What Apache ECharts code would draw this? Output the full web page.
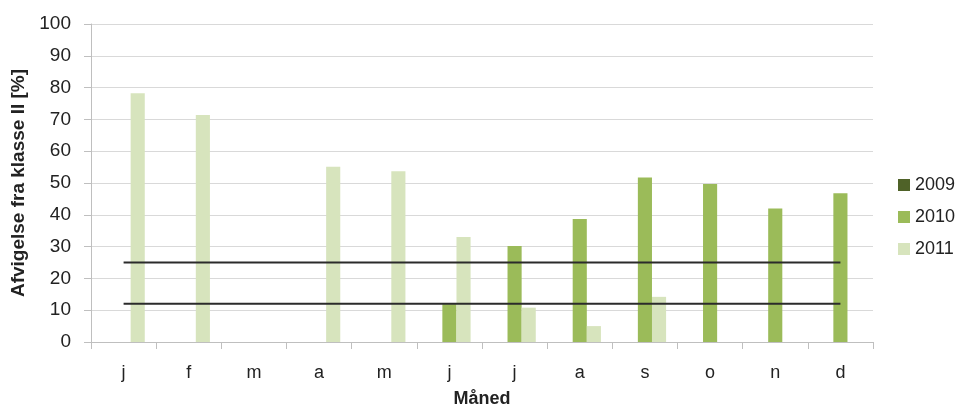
<!DOCTYPE html>
<html><head><meta charset="utf-8">
<script src="https://cdn.jsdelivr.net/npm/echarts@6/dist/echarts.min.js"></script>
<style>html,body{margin:0;padding:0;background:#fff}#c{width:962px;height:410px}</style>
</head><body><div id="c"></div>
<script>
const categories = ['j','f','m','a','m','j','j','a','s','o','n','d'];
const y2009 = [null,null,null,null,null,null,null,null,null,null,null,null];
const y2010 = [null,null,null,null,null,11.9,30.2,38.7,51.7,49.7,42.0,46.8];
const y2011 = [78.2,71.4,null,55.1,53.7,33.0,10.8,5.0,14.2,null,null,null];
const upperLimit = [25,25,25,25,25,25,25,25,25,25,25,25];
const lowerLimit = [12,12,12,12,12,12,12,12,12,12,12,12];
const seriesNames = ['2009','2010','2011'];
const yTicks = [0,10,20,30,40,50,60,70,80,90,100];

const font = 'Liberation Sans, Arial, sans-serif';
const chart = echarts.init(document.getElementById('c'), null, {renderer:'canvas'});
chart.setOption({
  animation:false,
  textStyle:{fontFamily:font},
  grid:{left:91,right:89,top:24,bottom:68,containLabel:false,outerBoundsMode:'none'},
  legend:{
    orient:'vertical', left:893, top:171, itemWidth:12, itemHeight:12, itemGap:14,
    data:seriesNames, icon:'rect',
    textStyle:{fontSize:18,color:'#222',fontFamily:font}
  },
  xAxis:{
    type:'category', data:categories, boundaryGap:true,
    name:'Måned', nameLocation:'middle', nameGap:48,
    nameTextStyle:{fontSize:18,fontWeight:'bold',color:'#222'},
    axisLine:{lineStyle:{color:'#bfbfbf'}},
    axisTick:{show:true,length:7,lineStyle:{color:'#bfbfbf'}},
    axisLabel:{fontSize:18,color:'#222',margin:22}
  },
  yAxis:{
    type:'value', min:0, max:100, interval:10,
    name:'Afvigelse fra klasse II [%]', nameLocation:'middle', nameGap:60,
    nameTextStyle:{fontSize:19,fontWeight:'bold',color:'#222'},
    axisLine:{show:true,lineStyle:{color:'#bfbfbf'}},
    axisTick:{show:true,length:7,lineStyle:{color:'#bfbfbf'}},
    axisLabel:{fontSize:19,color:'#222',margin:20,
      formatter:function(v){return yTicks.indexOf(v)>=0?String(v):'';}},
    splitLine:{lineStyle:{color:'#d9d9d9'}}
  },
  series:[
    {name:'2009',type:'bar',data:y2009,itemStyle:{color:'#4f6228'},barGap:'0%',barCategoryGap:'35%'},
    {name:'2010',type:'bar',data:y2010,itemStyle:{color:'#9bbb59'},barGap:'0%',barCategoryGap:'35%'},
    {name:'2011',type:'bar',data:y2011,itemStyle:{color:'#d7e4bd'},barGap:'0%',barCategoryGap:'35%'},
    {name:'upper',type:'line',data:upperLimit,symbol:'none',lineStyle:{color:'#2b2b2b',width:2},z:5},
    {name:'lower',type:'line',data:lowerLimit,symbol:'none',lineStyle:{color:'#2b2b2b',width:2},z:5}
  ]
});
</script></body></html>
